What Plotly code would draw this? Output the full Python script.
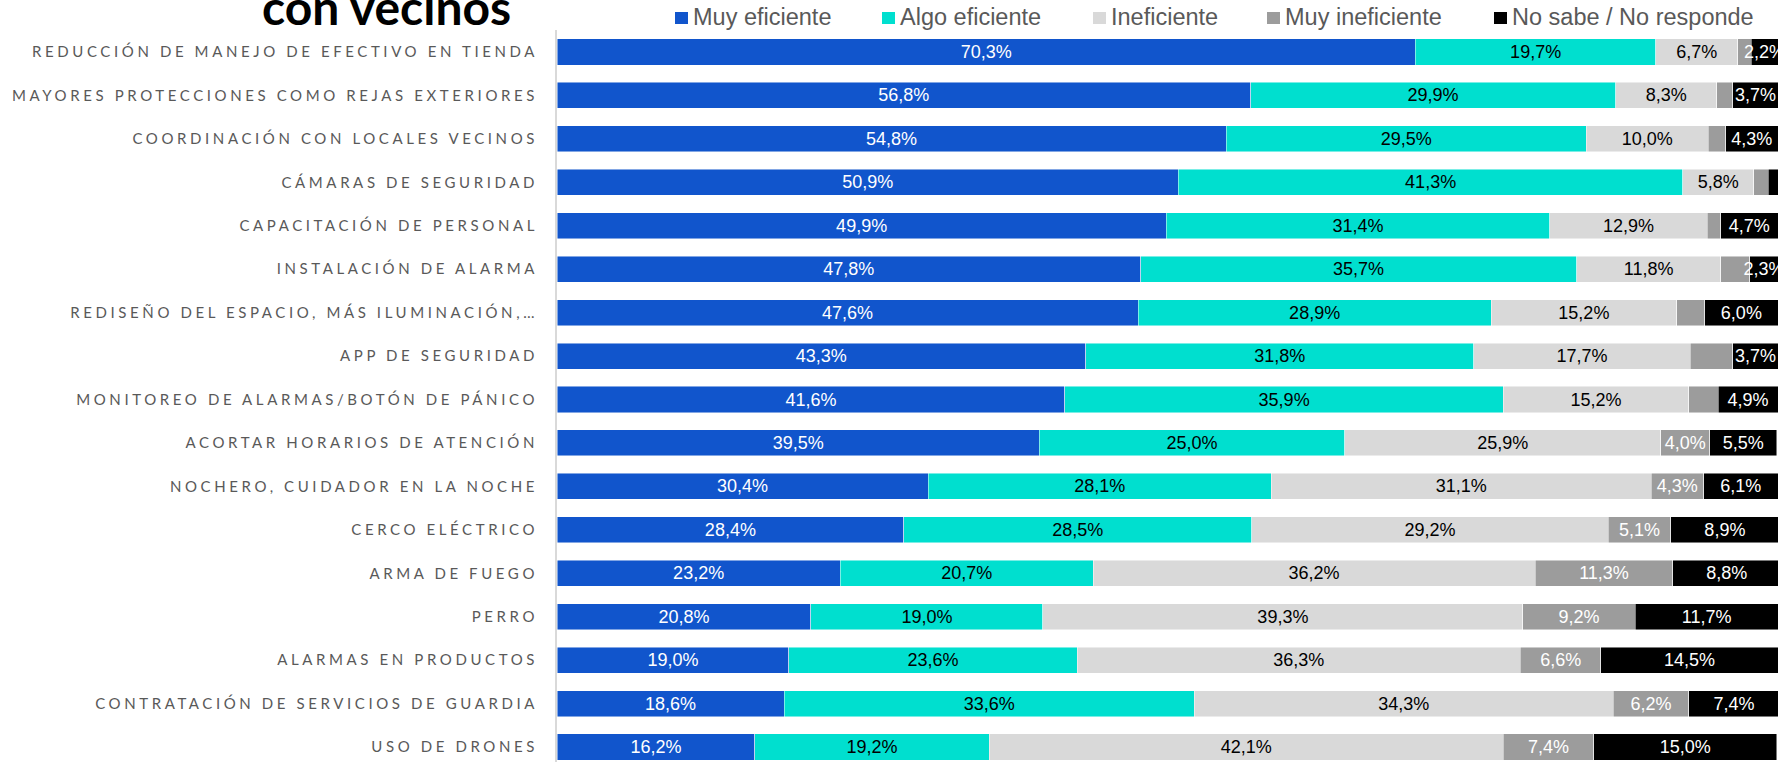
import plotly.graph_objects as go

# ---------------- data ----------------
categories = [
    "REDUCCIÓN DE MANEJO DE EFECTIVO EN TIENDA",
    "MAYORES PROTECCIONES COMO REJAS EXTERIORES",
    "COORDINACIÓN CON LOCALES VECINOS",
    "CÁMARAS DE SEGURIDAD",
    "CAPACITACIÓN DE PERSONAL",
    "INSTALACIÓN DE ALARMA",
    "REDISEÑO DEL ESPACIO, MÁS ILUMINACIÓN,…",
    "APP DE SEGURIDAD",
    "MONITOREO DE ALARMAS/BOTÓN DE PÁNICO",
    "ACORTAR HORARIOS DE ATENCIÓN",
    "NOCHERO, CUIDADOR EN LA NOCHE",
    "CERCO ELÉCTRICO",
    "ARMA DE FUEGO",
    "PERRO",
    "ALARMAS EN PRODUCTOS",
    "CONTRATACIÓN DE SERVICIOS DE GUARDIA",
    "USO DE DRONES",
]

muy_eficiente = [70.3, 56.8, 54.8, 50.9, 49.9, 47.8, 47.6, 43.3, 41.6, 39.5, 30.4, 28.4, 23.2, 20.8, 19.0, 18.6, 16.2]
algo_eficiente = [19.7, 29.9, 29.5, 41.3, 31.4, 35.7, 28.9, 31.8, 35.9, 25.0, 28.1, 28.5, 20.7, 19.0, 23.6, 33.6, 19.2]
ineficiente = [6.7, 8.3, 10.0, 5.8, 12.9, 11.8, 15.2, 17.7, 15.2, 25.9, 31.1, 29.2, 36.2, 39.3, 36.3, 34.3, 42.1]
muy_ineficiente = [1.1, 1.3, 1.4, 1.2, 1.1, 2.4, 2.3, 3.5, 2.4, 4.0, 4.3, 5.1, 11.3, 9.2, 6.6, 6.2, 7.4]
no_sabe = [2.2, 3.7, 4.3, 0.8, 4.7, 2.3, 6.0, 3.7, 4.9, 5.5, 6.1, 8.9, 8.8, 11.7, 14.5, 7.4, 15.0]

series_names = ["Muy eficiente", "Algo eficiente", "Ineficiente", "Muy ineficiente", "No sabe / No responde"]
series_values = [muy_eficiente, algo_eficiente, ineficiente, muy_ineficiente, no_sabe]

# segments whose value label is not shown in the original
unlabeled = {("Muy ineficiente", i) for i in range(9)} | {("No sabe / No responde", 3)}

title_text = "con vecinos"

# ---------------- styles ----------------
colors = ["#1155CC", "#00DFCF", "#D9D9D9", "#9C9C9C", "#000000"]
text_colors = ["#FFFFFF", "#000000", "#000000", "#FFFFFF", "#FFFFFF"]

W, H = 1787, 762
L, R, T, B = 557, 1778, 30, 762  # plot area in pixels


def px2x(px):
    return (px - L) / (R - L)


def px2y(py):
    return (B - py) / (B - T)


def fmt(v):
    return f"{v:.1f}%".replace(".", ",")


fig = go.Figure()
for name, vals, col, tcol in zip(series_names, series_values, colors, text_colors):
    texts = ["" if (name, i) in unlabeled else fmt(v) for i, v in enumerate(vals)]
    fig.add_trace(go.Bar(
        y=categories,
        x=vals,
        name=name,
        orientation="h",
        marker=dict(color=col, line=dict(color="rgba(255,255,255,0.6)", width=0.8)),
        text=texts,
        textposition="inside",
        insidetextanchor="middle",
        textangle=0,
        textfont=dict(family="Liberation Sans, Arial", size=18, color=tcol),
        showlegend=False,
        hovertemplate="%{y}<br>" + name + ": %{x:.1f}%<extra></extra>",
    ))

ticktext = [f'<span style="letter-spacing:3.6px">{c}</span>' for c in categories]

fig.update_layout(
    width=W,
    height=H,
    autosize=False,
    barmode="stack",
    bargap=0.4,
    paper_bgcolor="white",
    plot_bgcolor="white",
    margin=dict(l=L, r=W - R, t=T, b=H - B, pad=0),
    uniformtext=dict(minsize=18, mode="show"),
    xaxis=dict(range=[0, 100], showticklabels=False, showgrid=False, zeroline=False,
               showline=False, ticks=""),
    yaxis=dict(
        type="category",
        categoryorder="array",
        categoryarray=categories,
        tickvals=categories,
        ticktext=ticktext,
        range=[16.345, -0.506],
        showgrid=False,
        zeroline=False,
        showline=True,
        linecolor="#D9D9D9",
        linewidth=2,
        ticks="",
        ticklabelstandoff=14,
        tickfont=dict(family="Lato", size=15, color="#595959"),
    ),
    showlegend=False,
)

# title (partially cut off at the top, as in the original)
fig.add_annotation(
    text=title_text, xref="paper", yref="paper",
    x=px2x(260), y=px2y(6.4), xanchor="left", yanchor="middle",
    showarrow=False, font=dict(family="Lato", size=48, color="#000000", weight="bold"),
)

# manual legend
legend_square_left = [675, 882, 1093, 1267, 1494]
for name, col, sx in zip(series_names, colors, legend_square_left):
    fig.add_shape(type="rect", xref="paper", yref="paper",
                  x0=px2x(sx), x1=px2x(sx + 13), y0=px2y(24), y1=px2y(12),
                  fillcolor=col, line=dict(width=0))
    fig.add_annotation(
        text=name, xref="paper", yref="paper",
        x=px2x(sx + 17), y=px2y(17), xanchor="left", yanchor="middle",
        showarrow=False, borderpad=0,
        font=dict(family="Liberation Sans, Arial", size=23.5, color="#595959"),
    )

fig.write_html(
    "out.html",
    config={"displayModeBar": False},
    post_script="document.body.style.margin='0';document.body.style.overflow='hidden';",
)
